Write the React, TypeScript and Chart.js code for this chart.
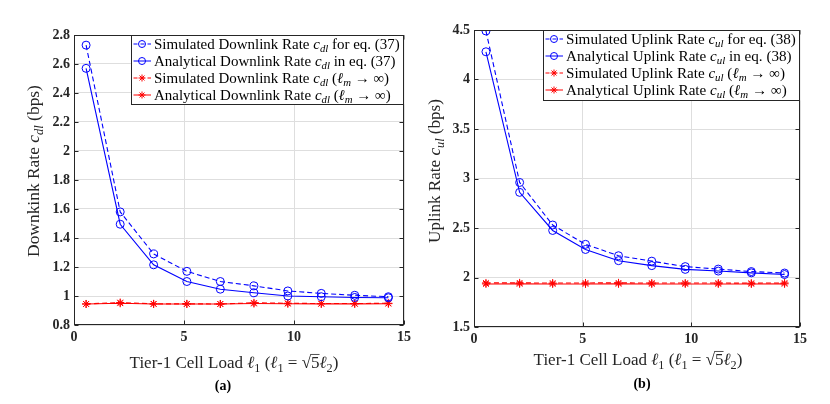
import React, { useEffect, useRef } from "react";
import { Chart, registerables } from "chart.js";

Chart.register(...registerables);

// ---------- data ----------
const LOAD = [0.55, 2.1, 3.62, 5.13, 6.65, 8.18, 9.72, 11.24, 12.76, 14.29];

const DL_SIM = [2.73, 1.58, 1.29, 1.17, 1.1, 1.07, 1.035, 1.018, 1.005, 0.995];
const DL_ANA = [2.57, 1.495, 1.215, 1.1, 1.047, 1.022, 1.0, 0.995, 0.99, 0.988];
const DL_SIM_INF = [0.945, 0.955, 0.946, 0.946, 0.945, 0.953, 0.95, 0.948, 0.948, 0.95];
const DL_ANA_INF = [0.945, 0.95, 0.945, 0.945, 0.945, 0.948, 0.947, 0.946, 0.946, 0.947];

const UL_SIM = [4.49, 2.96, 2.53, 2.335, 2.22, 2.165, 2.11, 2.085, 2.06, 2.045];
const UL_ANA = [4.28, 2.86, 2.475, 2.283, 2.17, 2.12, 2.082, 2.065, 2.047, 2.03];
const UL_SIM_INF = [1.945, 1.946, 1.944, 1.945, 1.946, 1.944, 1.944, 1.944, 1.943, 1.945];
const UL_ANA_INF = [1.935, 1.936, 1.935, 1.935, 1.936, 1.935, 1.935, 1.935, 1.935, 1.936];

const X_TICKS = [0, 5, 10, 15];
const DL_Y_TICKS = [0.8, 1, 1.2, 1.4, 1.6, 1.8, 2, 2.2, 2.4, 2.6, 2.8];
const UL_Y_TICKS = [1.5, 2, 2.5, 3, 3.5, 4, 4.5];

type Seg = { t: string; it?: boolean; sub?: boolean; over?: boolean; bold?: boolean };

const DL_LEGEND: Seg[][] = [
  [{ t: "Simulated Downlink Rate " }, { t: "c", it: true }, { t: "dl", it: true, sub: true }, { t: " for eq. (37)" }],
  [{ t: "Analytical Downlink Rate " }, { t: "c", it: true }, { t: "dl", it: true, sub: true }, { t: " in eq. (37)" }],
  [{ t: "Simulated Downlink Rate " }, { t: "c", it: true }, { t: "dl", it: true, sub: true }, { t: " (" }, { t: "ℓ", it: true }, { t: "m", it: true, sub: true }, { t: " → ∞)" }],
  [{ t: "Analytical Downlink Rate " }, { t: "c", it: true }, { t: "dl", it: true, sub: true }, { t: " (" }, { t: "ℓ", it: true }, { t: "m", it: true, sub: true }, { t: " → ∞)" }],
];
const UL_LEGEND: Seg[][] = [
  [{ t: "Simulated Uplink Rate " }, { t: "c", it: true }, { t: "ul", it: true, sub: true }, { t: " for eq. (38)" }],
  [{ t: "Analytical Uplink Rate " }, { t: "c", it: true }, { t: "ul", it: true, sub: true }, { t: " in eq. (38)" }],
  [{ t: "Simulated Uplink Rate " }, { t: "c", it: true }, { t: "ul", it: true, sub: true }, { t: " (" }, { t: "ℓ", it: true }, { t: "m", it: true, sub: true }, { t: " → ∞)" }],
  [{ t: "Analytical Uplink Rate " }, { t: "c", it: true }, { t: "ul", it: true, sub: true }, { t: " (" }, { t: "ℓ", it: true }, { t: "m", it: true, sub: true }, { t: " → ∞)" }],
];
const DL_Y_TITLE: Seg[] = [{ t: "Downkink Rate " }, { t: "c", it: true }, { t: "dl", it: true, sub: true }, { t: " (bps)" }];
const UL_Y_TITLE: Seg[] = [{ t: "Uplink Rate " }, { t: "c", it: true }, { t: "ul", it: true, sub: true }, { t: " (bps)" }];
const X_TITLE: Seg[] = [
  { t: "Tier-1 Cell Load " }, { t: "ℓ", it: true }, { t: "1", sub: true }, { t: " (" }, { t: "ℓ", it: true }, { t: "1", sub: true },
  { t: " = " }, { t: "√" }, { t: "5", over: true }, { t: "ℓ", it: true }, { t: "2", sub: true }, { t: ")" },
];

// ---------- styling ----------
const FONT = '"Liberation Serif", "DejaVu Serif", serif';
const AXIS = "#262626";
const GRID = "#dedede";
const BLUE = "#0000ff";
const RED = "#ff0000";
const DASH = [5, 3];

function segFont(s: Seg, fs: number) {
  return `${s.it ? "italic " : ""}${s.bold ? "bold " : ""}${s.sub ? fs * 0.72 : fs}px ${FONT}`;
}
function richWidth(ctx: CanvasRenderingContext2D, segs: Seg[], fs: number) {
  let w = 0;
  for (const s of segs) {
    ctx.font = segFont(s, fs);
    w += ctx.measureText(s.t).width;
  }
  return w;
}
function drawRich(ctx: CanvasRenderingContext2D, segs: Seg[], x: number, y: number, fs: number) {
  let cx = x;
  ctx.textBaseline = "alphabetic";
  ctx.textAlign = "left";
  for (const s of segs) {
    ctx.font = segFont(s, fs);
    const w = ctx.measureText(s.t).width;
    ctx.fillText(s.t, cx, y + (s.sub ? fs * 0.22 : 0));
    if (s.over) {
      ctx.save();
      ctx.strokeStyle = ctx.fillStyle as string;
      ctx.lineWidth = 0.8;
      ctx.beginPath();
      const oy = y - fs * 0.8;
      ctx.moveTo(cx - 0.5, oy);
      ctx.lineTo(cx + w, oy);
      ctx.stroke();
      ctx.restore();
    }
    cx += w;
  }
  return cx - x;
}
function fitSize(ctx: CanvasRenderingContext2D, segs: Seg[], target: number) {
  return (10 * target) / richWidth(ctx, segs, 10);
}

type Panel = {
  key: string;
  sim: number[];
  ana: number[];
  simInf: number[];
  anaInf: number[];
  yTicks: number[];
  legend: Seg[][];
  yTitle: Seg[];
  yTitleLen: number;
  caption: string;
  pad: { left: number; top: number; right: number; bottom: number };
  legendW: number;
  legendH: number;
  yTitleX: number;
  yTitleCY: number;
  xTitleCX: number;
  xTitleCY: number;
  capX: number;
  capY: number;
  canvasLeft: number;
};

const PANELS: Panel[] = [
  {
    key: "a",
    sim: DL_SIM,
    ana: DL_ANA,
    simInf: DL_SIM_INF,
    anaInf: DL_ANA_INF,
    yTicks: DL_Y_TICKS,
    legend: DL_LEGEND,
    yTitle: DL_Y_TITLE,
    yTitleLen: 172,
    caption: "(a)",
    pad: { left: 34, top: 35, right: 9, bottom: 59 },
    legendW: 273,
    legendH: 69,
    yTitleX: 34,
    yTitleCY: 171,
    xTitleCX: 234,
    xTitleCY: 363,
    capX: 223,
    capY: 386,
    canvasLeft: 0,
  },
  {
    key: "b",
    sim: UL_SIM,
    ana: UL_ANA,
    simInf: UL_SIM_INF,
    anaInf: UL_ANA_INF,
    yTicks: UL_Y_TICKS,
    legend: UL_LEGEND,
    yTitle: UL_Y_TITLE,
    yTitleLen: 144,
    caption: "(b)",
    pad: { left: 19, top: 30, right: 30, bottom: 57 },
    legendW: 257,
    legendH: 70,
    yTitleX: 20,
    yTitleCY: 171,
    xTitleCX: 223,
    xTitleCY: 360,
    capX: 227,
    capY: 384,
    canvasLeft: 415,
  },
];

function pts(ys: number[]) {
  return LOAD.map((x, i) => ({ x, y: ys[i] }));
}

function drawMarker(ctx: CanvasRenderingContext2D, kind: "circle" | "star", x: number, y: number, r: number, color: string) {
  ctx.save();
  ctx.strokeStyle = color;
  ctx.lineWidth = 1;
  ctx.setLineDash([]);
  ctx.beginPath();
  if (kind === "circle") {
    ctx.arc(x, y, r, 0, Math.PI * 2);
  } else {
    for (let k = 0; k < 4; k++) {
      const ang = (k * Math.PI) / 4;
      ctx.moveTo(x - r * Math.cos(ang), y - r * Math.sin(ang));
      ctx.lineTo(x + r * Math.cos(ang), y + r * Math.sin(ang));
    }
  }
  ctx.stroke();
  ctx.restore();
}

function decor(p: Panel) {
  return {
    id: "decor" + p.key,
    afterDraw(chart: any) {
      const ctx: CanvasRenderingContext2D = chart.ctx;
      const a = chart.chartArea;
      const xs = chart.scales.x;
      const ys = chart.scales.y;
      ctx.save();
      // frame
      ctx.strokeStyle = AXIS;
      ctx.lineWidth = 1;
      ctx.setLineDash([]);
      const L = Math.round(a.left) + 0.5;
      const T = Math.round(a.top) + 0.5;
      const R = Math.round(a.right) - 0.5;
      const B = Math.round(a.bottom) - 0.5;
      ctx.strokeRect(L, T, R - L, B - T);
      // inward ticks
      const TL = 4;
      ctx.beginPath();
      for (const v of X_TICKS) {
        const x = Math.round(xs.getPixelForValue(v)) + 0.5;
        ctx.moveTo(x, B);
        ctx.lineTo(x, B - TL);
        ctx.moveTo(x, T);
        ctx.lineTo(x, T + TL);
      }
      for (const v of p.yTicks) {
        const y = Math.round(ys.getPixelForValue(v)) + 0.5;
        ctx.moveTo(L, y);
        ctx.lineTo(L + TL, y);
        ctx.moveTo(R, y);
        ctx.lineTo(R - TL, y);
      }
      ctx.stroke();

      // legend
      const lw = p.legendW;
      const lh = p.legendH;
      const lx = Math.round(a.right - lw) + 0.5;
      const ly = T;
      ctx.fillStyle = "#ffffff";
      ctx.fillRect(lx, ly, lw, lh);
      ctx.strokeStyle = AXIS;
      ctx.strokeRect(lx, ly, R - lx, lh);
      const textX = lx + 22.5;
      let lfs = 100;
      for (const row of p.legend) lfs = Math.min(lfs, fitSize(ctx, row, R - textX - 3.5));
      const styles = [
        { color: BLUE, dash: true, mk: "circle" as const },
        { color: BLUE, dash: false, mk: "circle" as const },
        { color: RED, dash: true, mk: "star" as const },
        { color: RED, dash: false, mk: "star" as const },
      ];
      p.legend.forEach((row, i) => {
        const cy = ly + 8.5 + 17 * i;
        const st = styles[i];
        ctx.save();
        ctx.strokeStyle = st.color;
        ctx.lineWidth = 1;
        ctx.setLineDash(st.dash ? [4, 3] : []);
        ctx.beginPath();
        ctx.moveTo(lx + 2, cy);
        ctx.lineTo(lx + 19.5, cy);
        ctx.stroke();
        ctx.restore();
        drawMarker(ctx, st.mk, lx + 10.5, cy, 3.5, st.color);
        ctx.fillStyle = "#000000";
        drawRich(ctx, row, textX, cy + lfs * 0.33, lfs);
      });

      // axis titles
      ctx.fillStyle = AXIS;
      const tfs = fitSize(ctx, X_TITLE, 209);
      const xw = richWidth(ctx, X_TITLE, tfs);
      drawRich(ctx, X_TITLE, p.xTitleCX - xw / 2, p.xTitleCY + tfs * 0.3, tfs);

      const yfs = fitSize(ctx, p.yTitle, p.yTitleLen);
      const yw = richWidth(ctx, p.yTitle, yfs);
      ctx.save();
      ctx.translate(p.yTitleX, p.yTitleCY);
      ctx.rotate(-Math.PI / 2);
      drawRich(ctx, p.yTitle, -yw / 2, yfs * 0.3, yfs);
      ctx.restore();

      // caption
      ctx.font = `bold 14px ${FONT}`;
      ctx.fillStyle = "#000000";
      ctx.textAlign = "center";
      ctx.textBaseline = "middle";
      ctx.fillText(p.caption, p.capX, p.capY);
      ctx.restore();
    },
  };
}

function makeConfig(p: Panel): any {
  const tickFont = { family: FONT, size: 14, weight: "bold" as const };
  const ds = (data: number[], color: string, dashed: boolean, style: string) => ({
    data: pts(data),
    borderColor: color,
    borderWidth: 1.1,
    borderDash: dashed ? DASH : [],
    pointStyle: style,
    pointRadius: 4,
    pointBorderWidth: 1,
    pointBorderColor: color,
    pointBackgroundColor: style === "circle" ? "rgba(0,0,0,0)" : color,
    fill: false,
  });
  return {
    type: "line",
    data: {
      datasets: [
        { label: "sim", ...ds(p.sim, BLUE, true, "circle") },
        { label: "ana", ...ds(p.ana, BLUE, false, "circle") },
        { label: "simInf", ...ds(p.simInf, RED, true, "star") },
        { label: "anaInf", ...ds(p.anaInf, RED, false, "star") },
      ],
    },
    options: {
      animation: false,
      responsive: false,
      devicePixelRatio: 1,
      layout: { padding: p.pad },
      plugins: { legend: { display: false }, tooltip: { enabled: false }, title: { display: false } },
      elements: { line: { tension: 0 } },
      scales: {
        x: {
          type: "linear",
          position: "bottom",
          min: 0,
          max: 15,
          afterBuildTicks: (s: any) => {
            s.ticks = X_TICKS.map((v) => ({ value: v }));
          },
          afterFit: (s: any) => {
            s.height = 20;
          },
          ticks: {
            font: tickFont,
            color: AXIS,
            padding: 4,
            maxRotation: 0,
            callback: (v: any) => String(v),
          },
          grid: { color: GRID, lineWidth: 1, drawTicks: false },
          border: { display: false },
          title: { display: false },
        },
        y: {
          type: "linear",
          position: "left",
          min: p.yTicks[0],
          max: p.yTicks[p.yTicks.length - 1],
          afterBuildTicks: (s: any) => {
            s.ticks = p.yTicks.map((v) => ({ value: v }));
          },
          afterFit: (s: any) => {
            s.width = 40;
          },
          ticks: {
            font: tickFont,
            color: AXIS,
            padding: 4,
            callback: (v: any) => String(v),
          },
          grid: { color: GRID, lineWidth: 1, drawTicks: false },
          border: { display: false },
          title: { display: false },
        },
      },
    },
    plugins: [decor(p)],
  };
}

function PanelChart({ p }: { p: Panel }) {
  const ref = useRef<HTMLCanvasElement | null>(null);
  useEffect(() => {
    if (!ref.current) return;
    const chart = new Chart(ref.current, makeConfig(p));
    return () => chart.destroy();
  }, [p]);
  return (
    <canvas
      ref={ref}
      width={415}
      height={404}
      style={{ position: "absolute", left: p.canvasLeft, top: 0, width: 415, height: 404, display: "block" }}
    />
  );
}

export default function App() {
  return (
    <div style={{ position: "fixed", left: 0, top: 0, width: 830, height: 404, background: "#ffffff", overflow: "hidden" }}>
      {PANELS.map((p) => (
        <PanelChart key={p.key} p={p} />
      ))}
    </div>
  );
}
